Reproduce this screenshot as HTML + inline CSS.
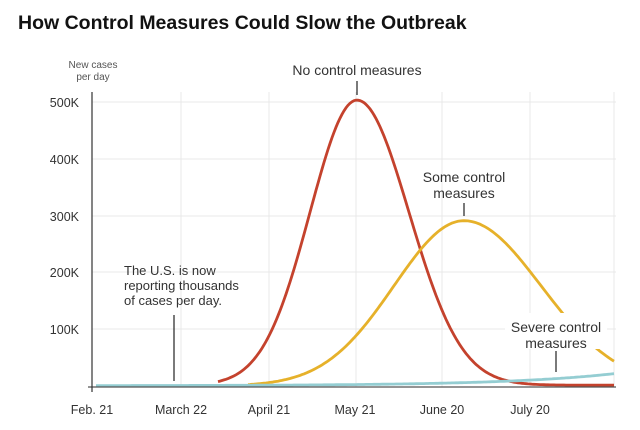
<!DOCTYPE html>
<html><head><meta charset="utf-8"><style>
body{margin:0;background:#fff;width:640px;height:425px;overflow:hidden;font-family:"Liberation Sans",Arial,sans-serif}
</style></head><body>
<svg id="s" width="640" height="425" xmlns="http://www.w3.org/2000/svg" font-family="Liberation Sans, Arial, sans-serif">
<text x="18" y="29" font-size="19.5" font-weight="bold" fill="#121212">How Control Measures Could Slow the Outbreak</text>
<g stroke="#e8e8e8" stroke-width="1">
<line x1="92" y1="102" x2="616" y2="102"/><line x1="92" y1="159" x2="616" y2="159"/>
<line x1="92" y1="216" x2="616" y2="216"/><line x1="92" y1="272" x2="616" y2="272"/>
<line x1="92" y1="329" x2="616" y2="329"/>
<line x1="181" y1="92" x2="181" y2="387"/><line x1="269" y1="92" x2="269" y2="387"/>
<line x1="356" y1="92" x2="356" y2="387"/><line x1="442" y1="92" x2="442" y2="387"/>
<line x1="530" y1="92" x2="530" y2="387"/><line x1="614" y1="92" x2="614" y2="387"/>
</g>
<g font-size="12.5" fill="#333" text-anchor="end">
<text x="79" y="107">500K</text><text x="79" y="164">400K</text><text x="79" y="221">300K</text>
<text x="79" y="277">200K</text><text x="79" y="334">100K</text>
</g>
<g font-size="10" fill="#555" text-anchor="middle"><text x="93" y="68">New cases</text><text x="93" y="80">per day</text></g>
<g font-size="12.5" fill="#333" text-anchor="middle">
<text x="92" y="414">Feb. 21</text><text x="181" y="414">March 22</text><text x="269" y="414">April 21</text>
<text x="355" y="414">May 21</text><text x="442" y="414">June 20</text><text x="530" y="414">July 20</text>
</g>
<path id="red" fill="none" stroke="#c4422d" stroke-width="2.8"/>
<path id="yel" fill="none" stroke="#e6b12a" stroke-width="2.8"/>
<path id="blu" fill="none" stroke="#94cdd2" stroke-width="2.8"/>
<line x1="88" y1="387" x2="616" y2="387" stroke="#555" stroke-width="1.2"/>
<line x1="92" y1="92" x2="92" y2="392" stroke="#333" stroke-width="1.2"/>
<rect x="505" y="313" width="102" height="36" fill="#fff"/>
<g font-size="14" fill="#333" text-anchor="middle">
<text x="357" y="75">No control measures</text>
<text x="464" y="182">Some control</text><text x="464" y="198">measures</text>
<text x="556" y="332">Severe control</text><text x="556" y="348">measures</text>
</g>
<g font-size="13" fill="#333"><text x="124" y="275">The U.S. is now</text><text x="124" y="290">reporting thousands</text><text x="124" y="305">of cases per day.</text></g>
<g stroke="#222" stroke-width="1.2">
<line x1="357" y1="81" x2="357" y2="95"/><line x1="464" y1="203" x2="464" y2="216"/>
<line x1="556" y1="351" x2="556" y2="372"/><line x1="174" y1="315" x2="174" y2="381"/>
</g>
</svg>
<script>
function P(f,a,b){var d="";for(var x=a;x<=b;x+=2){d+=(x==a?"M":"L")+x+","+f(x).toFixed(1);}return d;}
var k=0.57;
document.getElementById("red").setAttribute("d",P(function(x){var s=x<357?47:52;return 386-k*(500*Math.exp(-Math.pow(x-357,2)/(2*s*s))+1.5);},218,614));
document.getElementById("yel").setAttribute("d",P(function(x){var s=x<464?70:77;return 386-k*(290*Math.exp(-Math.pow(x-464,2)/(2*s*s)));},248,614));
document.getElementById("blu").setAttribute("d",P(function(x){return 386-0.3-12*Math.exp((x-614)/110);},96,614));
</script>
</body></html>
